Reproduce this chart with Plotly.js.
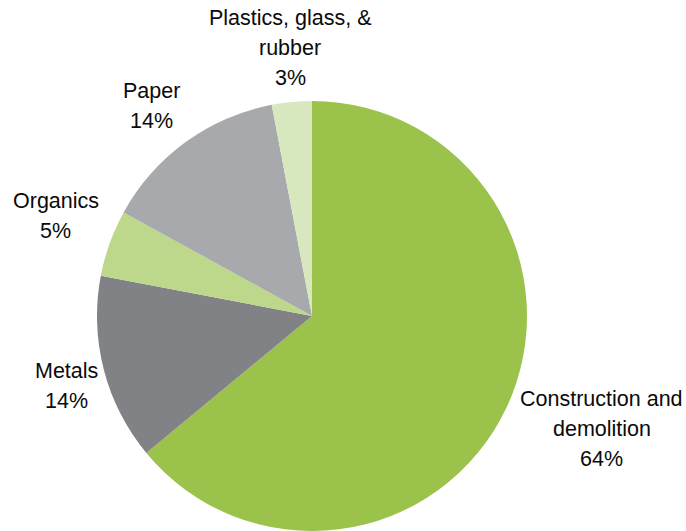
<!DOCTYPE html>
<html>
<head>
<meta charset="utf-8">
<script src="https://cdn.plot.ly/plotly-3.0.1.min.js"></script>
<style>html,body{margin:0;padding:0;background:#fff;}#chart{width:686px;height:531px;}</style>
</head>
<body>
<div id="chart"></div>
<script>
const categories = ["Construction and demolition", "Metals", "Organics", "Paper", "Plastics, glass, & rubber"];
const labelLines = [["Construction and", "demolition"], ["Metals"], ["Organics"], ["Paper"], ["Plastics, glass, &", "rubber"]];
const shares = [64, 14, 5, 14, 3];
const colors = ["#9BC24A", "#808285", "#BDD88A", "#A7A9AC", "#D8E8BE"];

// label block centres (paper coords) — layout only
const labelPos = [[0.877, 0.193], [0.097, 0.273], [0.081, 0.593], [0.221, 0.800], [0.423, 0.910]];

const lineGap = 30;
const annotations = [];
categories.forEach((c, i) => {
  const lines = labelLines[i].concat([shares[i] + "%"]);
  const n = lines.length;
  lines.forEach((t, k) => {
    annotations.push({
      text: t, xref: "paper", yref: "paper",
      x: labelPos[i][0], y: labelPos[i][1],
      yshift: ((n - 1) / 2 - k) * lineGap,
      showarrow: false, xanchor: "center", yanchor: "middle",
      font: {family: "'Liberation Sans', Arial, sans-serif", size: 21.5, color: "#0a0a0a"}
    });
  });
});

Plotly.newPlot("chart", [{
  type: "pie",
  labels: categories,
  values: shares,
  marker: {colors: colors, line: {width: 0}},
  sort: false,
  direction: "clockwise",
  rotation: 0,
  textinfo: "none",
  hoverinfo: "label+percent",
  domain: {x: [0.1414, 0.7682], y: [0, 0.8098]}
}], {
  width: 686, height: 531,
  margin: {l: 0, r: 0, t: 0, b: 0},
  showlegend: false,
  paper_bgcolor: "#fff",
  annotations: annotations
}, {displayModeBar: false, staticPlot: true});
</script>
</body>
</html>
